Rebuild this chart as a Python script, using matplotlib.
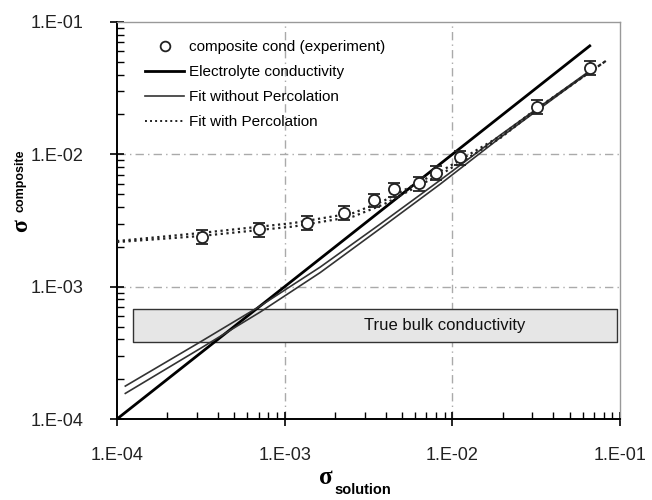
import matplotlib
matplotlib.use('Agg')
import matplotlib.pyplot as plt
import numpy as np
from matplotlib.lines import Line2D
from matplotlib.ticker import LogLocator, FixedFormatter, FixedLocator, NullFormatter

plt.rcParams['font.family'] = ['Liberation Sans', 'DejaVu Sans']

# experiment
exp_x = [3.2e-4, 7.05e-4, 1.357e-3, 2.26e-3, 3.42e-3, 4.51e-3, 6.3e-3, 8.0e-3, 1.106e-2, 3.21e-2, 6.61e-2]
exp_y = [2.38e-3, 2.72e-3, 3.04e-3, 3.62e-3, 4.51e-3, 5.44e-3, 6.04e-3, 7.26e-3, 9.49e-3, 2.29e-2, 4.52e-2]
exp_err = [2.9e-4, 3.3e-4, 3.6e-4, 4.3e-4, 5.4e-4, 6.5e-4, 7.2e-4, 8.7e-4, 1.14e-3, 2.7e-3, 5.4e-3]

# electrolyte
elec_x = [1e-4, 6.6e-2]
elec_y = [1e-4, 6.6e-2]

# fits without percolation (two curves)
nop_x = [1.121e-4, 3.130e-4, 7.140e-4, 1.629e-3, 3.716e-3, 8.480e-3, 1.934e-2, 6.575e-2]
nop1_y = [1.773e-4, 3.814e-4, 7.136e-4, 1.406e-3, 2.973e-3, 6.393e-3, 1.399e-2, 4.262e-2]
nop2_y = [1.561e-4, 3.404e-4, 6.427e-4, 1.278e-3, 2.749e-3, 5.964e-3, 1.340e-2, 4.188e-2]

# fits with percolation (two curves)
perc_x = [1e-4, 3.13e-4, 1.124e-3, 2.564e-3, 3.873e-3, 9.21e-3, 1.934e-2, 3.218e-2, 8.386e-2]
perc1_y = [2.212e-3, 2.542e-3, 3.025e-3, 3.60e-3, 4.436e-3, 7.876e-3, 1.375e-2, 2.239e-2, 5.161e-2]
perc2_y = [2.173e-3, 2.412e-3, 2.846e-3, 3.388e-3, 4.174e-3, 7.477e-3, 1.328e-2, 2.200e-2, 5.161e-2]

# bulk box
bulk_x = [1.246e-4, 9.62e-2]
bulk_y = [3.83e-4, 6.74e-4]
bulk_text_pos = (8.96e-3, 5.1e-4)

ticks = [1e-4, 1e-3, 1e-2, 1e-1]
tick_labels = ['1.E-04', '1.E-03', '1.E-02', '1.E-01']

fig = plt.figure(figsize=(6.52, 5.0), dpi=100)
ax = fig.add_axes([117/652, 1 - 419/500, 503/652, 397/500])
ax.set_xscale('log')
ax.set_yscale('log')
ax.set_xlim(1e-4, 1e-1)
ax.set_ylim(1e-4, 1e-1)

ax.fill_between(bulk_x, bulk_y[0], bulk_y[1], facecolor='#e6e6e6', edgecolor='#333333', lw=1.0, zorder=1)
ax.text(*bulk_text_pos, 'True bulk conductivity', ha='center', va='center', fontsize=12,
        color='#111111', zorder=2)

ax.plot(elec_x, elec_y, color='black', lw=2.0, zorder=3)
ax.plot(nop_x, nop1_y, color='#333333', lw=1.2, zorder=3)
ax.plot(nop_x, nop2_y, color='#333333', lw=1.2, zorder=3)
ax.plot(perc_x, perc1_y, color='#222222', lw=1.6, ls=(0, (1, 1.6)), zorder=3)
ax.plot(perc_x, perc2_y, color='#222222', lw=1.6, ls=(0, (1, 1.6)), zorder=3)
ax.errorbar(exp_x, exp_y, yerr=exp_err, fmt='o', mfc='white', mec='#222222', mew=1.3, ms=8,
            ecolor='#222222', elinewidth=1.2, capsize=4, capthick=1.2, zorder=4)

for t in ticks[1:-1]:
    ax.axvline(t, color='#aaaaaa', lw=1, ls=(0, (6, 3, 1, 3)), zorder=0)
    ax.axhline(t, color='#aaaaaa', lw=1, ls=(0, (6, 3, 1, 3)), zorder=0)

ax.xaxis.set_major_locator(FixedLocator(ticks))
ax.yaxis.set_major_locator(FixedLocator(ticks))
ax.xaxis.set_major_formatter(FixedFormatter(tick_labels))
ax.yaxis.set_major_formatter(FixedFormatter(tick_labels))
ax.xaxis.set_minor_locator(LogLocator(base=10, subs=np.arange(2, 10)))
ax.yaxis.set_minor_locator(LogLocator(base=10, subs=np.arange(2, 10)))
ax.xaxis.set_minor_formatter(NullFormatter())
ax.yaxis.set_minor_formatter(NullFormatter())
ax.tick_params(which='major', direction='inout', length=10, width=1.2, labelsize=13,
               labelcolor='#222222')
ax.tick_params(axis='x', which='major', pad=15)
ax.tick_params(axis='y', which='major', pad=19)
ax.tick_params(which='minor', direction='in', length=5, width=1.0)
ax.tick_params(top=False, right=False, which='both')

ax.spines['left'].set_linewidth(1.4)
ax.spines['bottom'].set_linewidth(1.4)
for s in ['top', 'right']:
    ax.spines[s].set_color('#999999')
    ax.spines[s].set_linewidth(1.0)

handles = [
    Line2D([], [], ls='none', marker='o', mfc='white', mec='#222222', mew=1.3, ms=7),
    Line2D([], [], color='black', lw=2.0),
    Line2D([], [], color='#333333', lw=1.2),
    Line2D([], [], color='#222222', lw=1.4, ls=(0, (1, 1.6))),
]
labels = ['composite cond (experiment)', 'Electrolyte conductivity',
          'Fit without Percolation', 'Fit with Percolation']
ax.legend(handles, labels, loc='upper left', bbox_to_anchor=(0.055, 0.955), frameon=False,
          fontsize=11, handlelength=2.6, handletextpad=0.3, labelspacing=0.72,
          borderaxespad=0, borderpad=0)

# axis labels
fig.text(0.510, 0.046, 'σ', fontsize=18, fontweight='bold', family='Liberation Serif', ha='right', va='center')
fig.text(0.513, 0.020, 'solution', fontsize=10.5, fontweight='bold', ha='left', va='center')
fig.text(0.033, 0.548, 'σ', fontsize=17, fontweight='bold', family='Liberation Serif', rotation=90,
         ha='center', va='center')
fig.text(0.031, 0.638, 'composite', fontsize=9, fontweight='bold', rotation=90, ha='center', va='center')

fig.savefig('out.png', dpi=100)
